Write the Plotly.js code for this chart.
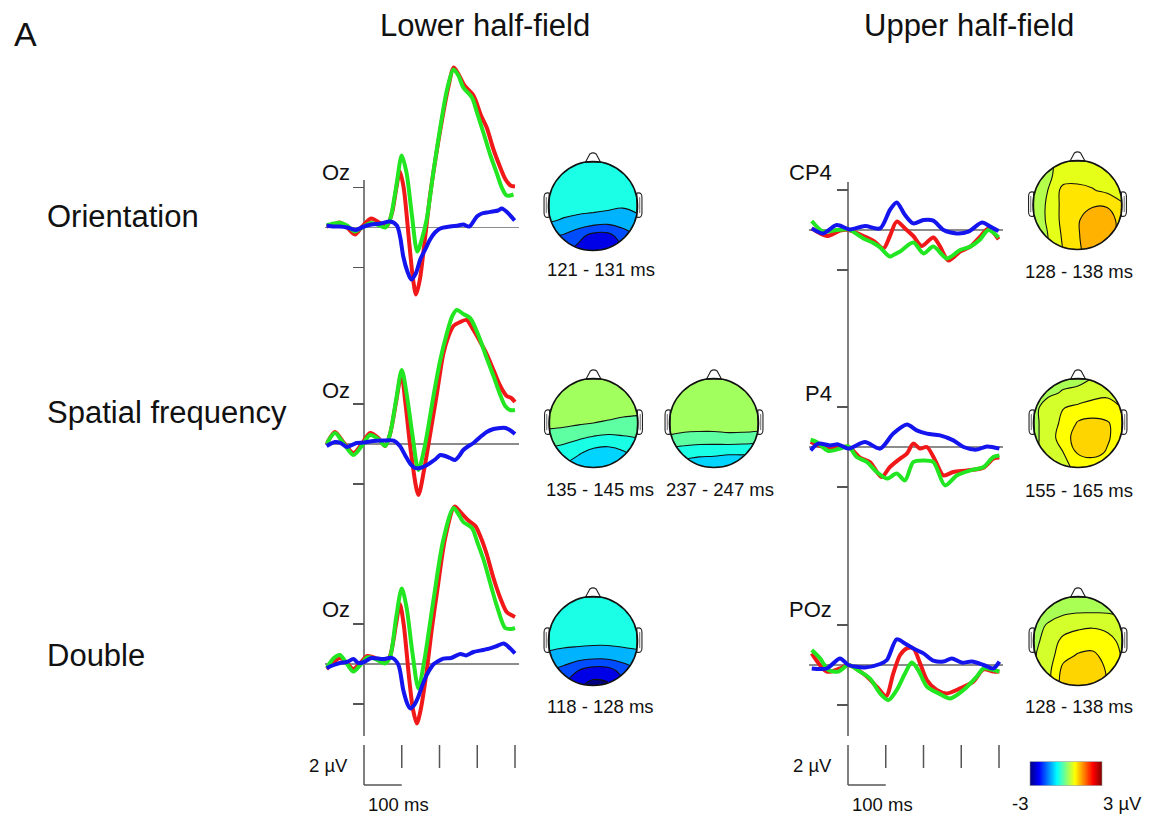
<!DOCTYPE html>
<html><head><meta charset="utf-8">
<script src="https://cdn.plot.ly/plotly-3.0.1.min.js"></script>
<style>html,body{margin:0;padding:0;background:#fff}#chart{width:1151px;height:816px}</style>
</head><body><div id="chart"></div>
<script>
// ---------------- DATA: ERP waveforms (time in ms, amplitude in µV) ----------------
// Orientation, lower half-field (Oz)
const olRedT   = [-99,-80,-64,-45,-24,-5,19,40,60,75,85,95,105,120,130,138,148,160,175,190,205,222,238,252,266,290,310,325,343,361,375,388,400];
const olRedV   = [0.05,0.15,0.25,0.0,-0.35,0.05,0.45,0.25,0.05,0.8,1.9,2.8,2.0,-0.8,-2.6,-3.35,-2.6,-0.8,1.6,3.5,5.2,6.9,8.0,7.6,7.1,6.6,5.6,5.0,3.9,3.0,2.4,2.1,2.05];
const olGreenT = [-99,-80,-64,-45,-24,-5,16,35,56,69,85,100,113,127,141,153,166,184,202,220,237,250,263,286,300,317,335,352,365,378,396];
const olGreenV = [0.1,0.2,0.24,0.1,-0.2,0.0,0.22,0.15,0.0,0.4,2.0,3.6,2.7,0.6,-1.2,-0.6,0.4,2.8,5.0,6.9,7.9,7.6,7.0,6.5,5.7,4.7,3.6,2.7,2.0,1.6,1.65];
const olBlueT  = [-99,-80,-64,-45,-22,0,20,45,69,87,96,104,115,125,137,149,162,175,188,202,228,250,263,279,299,312,325,340,355,365,380,399];
const olBlueV  = [0.1,0.05,0.05,0.0,-0.12,0.05,0.15,0.2,0.3,0.1,-0.5,-1.45,-2.2,-2.6,-2.3,-1.6,-1.1,-0.6,-0.25,-0.05,0.05,0.1,0.15,0.05,0.55,0.7,0.75,0.8,0.85,0.95,0.75,0.35];
// Spatial frequency, lower half-field (Oz)
const slRedT   = [-99,-77,-55,-28,-6,16,38,56,69,85,99,110,125,144,160,178,193,210,224,237,255,272,290,308,325,343,361,378,390,400];
const slRedV   = [0.0,0.6,0.1,-0.45,0.0,0.55,0.3,-0.1,0.5,2.1,3.5,2.0,-0.5,-2.55,-1.2,0.8,2.5,4.5,5.4,5.9,6.1,6.2,5.7,5.1,4.5,3.7,2.9,2.4,2.3,2.1];
const slGreenT = [-99,-77,-55,-28,-6,16,38,56,69,85,100,113,128,144,160,184,202,219,234,246,263,281,295,308,325,343,360,374,387,400];
const slGreenV = [0.0,0.55,0.05,-0.55,-0.1,0.45,0.25,-0.1,0.5,2.2,3.7,2.5,0.5,-1.3,-0.2,2.4,4.2,5.5,6.4,6.7,6.5,6.3,5.8,5.2,4.3,3.4,2.5,1.9,1.7,1.7];
const slBlueT  = [-99,-77,-62,-45,-20,0,25,50,78,95,110,122,135,148,162,175,190,202,215,228,241,252,263,277,290,308,325,343,361,375,390,400];
const slBlueV  = [-0.1,0.1,0.05,-0.15,0.05,0.07,0.15,0.17,0.17,-0.1,-0.6,-0.97,-1.2,-1.2,-1.1,-0.95,-0.75,-0.55,-0.6,-0.7,-0.8,-0.6,-0.3,-0.1,0.05,0.35,0.6,0.75,0.8,0.8,0.65,0.5];
// Double, lower half-field (Oz)
const dlRedT   = [-99,-80,-64,-45,-28,-10,9,30,56,69,85,95,105,120,130,140,150,165,180,195,215,240,255,275,295,310,325,343,361,378,390,400];
const dlRedV   = [-0.25,0.1,0.3,0.05,-0.25,0.05,0.4,0.3,0.05,0.4,2.0,3.0,2.0,-0.8,-2.3,-2.97,-2.3,-0.5,1.8,3.8,6.3,7.87,7.6,7.2,6.9,6.3,5.5,4.3,3.3,2.6,2.45,2.35];
const dlGreenT = [-99,-80,-64,-45,-28,-10,9,30,56,69,85,100,113,128,144,160,184,210,237,250,263,286,300,317,335,352,374,390,400];
const dlGreenV = [-0.2,0.3,0.45,0.0,-0.38,-0.05,0.33,0.25,0.03,0.35,2.3,3.78,2.8,0.6,-1.22,0.2,3.2,6.2,7.8,7.5,7.1,6.8,6.1,5.2,4.0,2.9,1.8,1.75,1.8];
const dlBlueT  = [-99,-80,-64,-45,-28,-15,0,20,50,75,91,104,115,122,133,144,158,171,185,193,210,230,255,270,290,310,334,352,370,382,400];
const dlBlueV  = [-0.2,-0.05,0.05,0.1,0.25,0.05,0.1,0.3,0.25,0.3,-0.03,-1.3,-2.0,-2.22,-2.05,-1.63,-0.9,-0.38,0.0,0.1,0.27,0.3,0.5,0.43,0.6,0.68,0.78,0.9,1.03,0.87,0.53];
// Orientation, upper half-field (CP4)
const ouRedT   = [-96,-56,-21,1,41,67,94,111,129,151,173,195,226,244,266,297,324,350,372,399];
const ouRedV   = [0.08,-0.3,-0.03,0.0,-0.3,-0.53,-0.92,-0.3,0.42,0.08,-0.3,-0.8,-0.37,-0.83,-1.53,-1.08,-0.83,-0.33,0.08,-0.47];
const ouGreenT = [-96,-66,-30,1,41,67,85,111,125,138,173,200,226,262,297,324,350,372,399];
const ouGreenV = [0.45,-0.08,0.0,0.03,-0.42,-0.65,-0.87,-1.33,-1.2,-1.08,-0.63,-1.17,-0.83,-1.42,-1.0,-0.83,-0.47,0.0,-0.37];
const ouBlueT  = [-96,-66,-30,5,45,85,111,129,151,173,200,226,253,288,319,355,377,399];
const ouBlueV  = [0.08,-0.17,0.25,0.03,0.2,0.08,1.0,1.38,0.75,0.33,0.5,0.47,0.0,-0.17,-0.08,0.37,0.17,-0.05];
// Spatial frequency, upper half-field (P4)
const suRedT   = [-99,-56,1,32,58,89,111,138,156,173,191,209,231,253,279,315,359,385,401];
const suRedV   = [0.25,-0.05,0.0,-0.53,-0.75,-1.5,-1.0,-0.58,-0.33,0.17,-0.08,0.0,-0.67,-1.42,-1.25,-1.17,-1.03,-0.58,-0.53];
const suGreenT = [-99,-83,-52,-21,1,23,50,76,103,129,151,173,200,226,257,288,324,359,385,401];
const suGreenV = [0.37,0.25,-0.2,-0.08,0.03,-0.5,-0.75,-1.25,-1.58,-1.33,-1.67,-0.75,-0.67,-0.75,-1.92,-1.42,-1.17,-1.0,-0.5,-0.42];
const suBlueT  = [-99,-79,-48,-26,1,45,85,120,156,182,209,244,279,306,341,368,401];
const suBlueV  = [-0.17,0.17,0.08,0.13,-0.08,0.25,-0.08,0.67,1.12,0.83,0.67,0.58,0.33,0.0,-0.13,0.03,-0.08];
// Double, upper half-field (POz)
const duRedT   = [-96,-56,-21,1,45,76,101,120,138,156,173,191,209,235,262,297,332,359,385,401];
const duRedV   = [0.58,-0.33,-0.17,0.0,-0.5,-1.08,-1.55,-0.42,0.5,0.83,0.83,0.08,-0.75,-1.25,-1.42,-1.17,-0.83,-0.22,-0.33,-0.33];
const duGreenT = [-96,-74,-52,-26,1,32,58,85,107,129,151,169,186,209,240,271,306,341,359,385,401];
const duGreenV = [0.75,0.33,-0.25,-0.33,0.0,-0.33,-0.67,-1.42,-1.75,-1.25,-0.42,0.12,-0.25,-1.08,-1.42,-1.67,-1.25,-0.58,-0.17,-0.25,-0.33];
const duBlueT  = [-96,-56,-21,1,45,85,103,129,151,173,200,226,253,275,301,328,359,385,401];
const duBlueV  = [-0.17,-0.17,0.33,0.0,-0.12,0.05,0.25,1.28,1.08,0.83,0.58,0.22,0.17,0.33,0.12,0.17,0.0,-0.17,0.17];

// scale-bar ticks (ms) and amplitude ticks (µV)
const timeTicks = [100, 200, 300, 400];
const ampTicks = [-2, 2];
const scaleBarMs = 100, scaleBarUv = 2;

// ---------------- DATA: scalp maps (µV), rows from back (y=-1) to front (y=1) ----------------
const topoGrid = [-1, -0.667, -0.333, 0, 0.333, 0.667, 1];
const topoOL121 = [
  [-1.6,-1.9,-2.3,-2.6,-2.6,-2.2,-1.8],
  [-1.4,-1.55,-1.9,-2.3,-2.3,-1.8,-1.5],
  [-0.85,-0.95,-1.05,-1.15,-1.25,-1.2,-1.0],
  [-0.65,-0.7,-0.7,-0.7,-0.75,-0.85,-0.8],
  [-0.55,-0.55,-0.55,-0.6,-0.6,-0.6,-0.6],
  [-0.5,-0.5,-0.5,-0.5,-0.5,-0.5,-0.5],
  [-0.5,-0.5,-0.5,-0.5,-0.5,-0.5,-0.5]];
const topoSL135 = [
  [-0.7,-0.85,-1.05,-1.1,-1.1,-1.0,-0.75],
  [-0.55,-0.6,-0.75,-0.95,-1.0,-0.85,-0.6],
  [-0.15,-0.25,-0.35,-0.45,-0.5,-0.45,-0.4],
  [0.1,0.1,0.05,0.0,-0.05,-0.1,-0.15],
  [0.2,0.2,0.2,0.2,0.2,0.15,0.15],
  [0.25,0.25,0.25,0.25,0.25,0.25,0.25],
  [0.25,0.25,0.25,0.25,0.25,0.25,0.25]];
const topoSL237 = [
  [-1.0,-1.0,-1.05,-1.05,-1.1,-1.1,-1.1],
  [-0.6,-0.65,-0.7,-0.72,-0.75,-0.75,-0.78],
  [-0.05,-0.12,-0.15,-0.15,-0.12,-0.15,-0.2],
  [0.2,0.2,0.2,0.2,0.22,0.25,0.25],
  [0.25,0.25,0.25,0.25,0.25,0.25,0.25],
  [0.25,0.25,0.25,0.25,0.25,0.25,0.25],
  [0.25,0.25,0.25,0.25,0.25,0.25,0.25]];
const topoDL118 = [
  [-1.8,-2.1,-2.6,-2.9,-2.8,-2.3,-1.9],
  [-1.5,-1.7,-2.1,-2.4,-2.35,-1.9,-1.55],
  [-1.0,-1.1,-1.2,-1.25,-1.25,-1.15,-1.05],
  [-0.7,-0.72,-0.72,-0.75,-0.75,-0.72,-0.7],
  [-0.5,-0.5,-0.5,-0.5,-0.5,-0.5,-0.5],
  [-0.45,-0.45,-0.45,-0.45,-0.45,-0.45,-0.45],
  [-0.45,-0.45,-0.45,-0.45,-0.45,-0.45,-0.45]];
const topoOU128 = [
  [0.26,0.45,0.75,0.98,1.24,1.13,0.83],
  [0.26,0.45,0.79,1.01,1.28,1.24,0.9],
  [0.26,0.49,0.83,1.01,1.24,1.24,0.9],
  [0.26,0.49,0.83,0.86,1.01,1.01,0.79],
  [0.26,0.45,0.83,0.83,0.77,0.68,0.6],
  [0.3,0.38,0.6,0.64,0.64,0.53,0.41],
  [0.38,0.38,0.56,0.6,0.6,0.49,0.41]];
const topoSU155 = [
  [0.33,0.4,0.55,0.7,0.72,0.7,0.65],
  [0.33,0.45,0.62,0.9,0.95,0.85,0.7],
  [0.3,0.5,0.75,1.0,1.0,0.9,0.75],
  [0.3,0.5,0.68,0.9,0.95,0.9,0.7],
  [0.3,0.5,0.62,0.7,0.72,0.68,0.62],
  [0.2,0.33,0.4,0.42,0.55,0.6,0.6],
  [0.2,0.25,0.3,0.33,0.38,0.5,0.55]];
const topoDU128 = [
  [0.35,0.55,1.0,1.1,1.05,0.85,0.6],
  [0.35,0.55,0.95,1.05,1.0,0.85,0.6],
  [0.35,0.5,0.8,0.9,0.92,0.8,0.6],
  [0.32,0.45,0.7,0.75,0.78,0.72,0.55],
  [0.3,0.4,0.5,0.58,0.6,0.55,0.42],
  [0.25,0.3,0.33,0.35,0.35,0.35,0.35],
  [0.2,0.22,0.25,0.27,0.28,0.3,0.3]];
const colorRange = [-3, 3];

// ---------------- LAYOUT / STYLE ----------------
const W = 1151, H = 816;
const fx = px => px / W;
const fy = py => 1 - py / H;
const FONT = 'Liberation Sans, Arial, Helvetica, sans-serif';
const PX_MS = 0.3775, PX_UV = 20;
const T_RANGE = [-102, 410], V_RANGE = [-6, 10];
const JET = [[0,'rgb(0,0,128)'],[0.125,'rgb(0,0,255)'],[0.375,'rgb(0,255,255)'],[0.625,'rgb(255,255,0)'],[0.875,'rgb(255,0,0)'],[1,'rgb(128,0,0)']];
const COLORS = ['#f01818', '#22e622', '#1414ee'];
const AX = '#555';

const columns = [{t0: 364, axisTop: 180, elecX: 352}, {t0: 848, axisTop: 182, elecX: 834}];
const panels = [
  {col:0, zero:227.5, elec:'Oz',  elecY:172, s:[[olRedT,olRedV],[olGreenT,olGreenV],[olBlueT,olBlueV]]},
  {col:0, zero:444,   elec:'Oz',  elecY:390, s:[[slRedT,slRedV],[slGreenT,slGreenV],[slBlueT,slBlueV]]},
  {col:0, zero:664,   elec:'Oz',  elecY:609, s:[[dlRedT,dlRedV],[dlGreenT,dlGreenV],[dlBlueT,dlBlueV]]},
  {col:1, zero:230,   elec:'CP4', elecY:172, s:[[ouRedT,ouRedV],[ouGreenT,ouGreenV],[ouBlueT,ouBlueV]]},
  {col:1, zero:447,   elec:'P4',  elecY:393, s:[[suRedT,suRedV],[suGreenT,suGreenV],[suBlueT,suBlueV]]},
  {col:1, zero:665,   elec:'POz', elecY:609, s:[[duRedT,duRedV],[duGreenT,duGreenV],[duBlueT,duBlueV]]}
];
const topos = [
  {z:topoOL121, cs:0.6,  cx:593,    cy:206, label:'121 - 131 ms', lx:601,  ly:270},
  {z:topoSL135, cs:0.4,  cx:593.5,  cy:423, label:'135 - 145 ms', lx:600,  ly:489},
  {z:topoSL237, cs:0.4,  cx:714,    cy:423, label:'237 - 247 ms', lx:720,  ly:489},
  {z:topoDL118, cs:0.6,  cx:593,    cy:641, label:'118 - 128 ms', lx:601,  ly:706},
  {z:topoOU128, cs:0.3,  cx:1077.5, cy:205, label:'128 - 138 ms', lx:1079, ly:272},
  {z:topoSU155, cs:0.25, cx:1078,   cy:423, label:'155 - 165 ms', lx:1079, ly:490},
  {z:topoDU128, cs:0.25, cx:1078,   cy:641, label:'128 - 138 ms', lx:1079, ly:706}
];

const traces = [];
const layout = {
  width: W, height: H, margin: {l:0, r:0, t:0, b:0},
  paper_bgcolor: '#fff', plot_bgcolor: 'rgba(0,0,0,0)', showlegend: false,
  font: {family: FONT, color: '#111'},
  shapes: [], annotations: []
};
const ann = (text, x, y, size, xanchor) => layout.annotations.push({
  text, x: fx(x), y: fy(y), xref:'paper', yref:'paper', showarrow:false,
  xanchor: xanchor || 'center', yanchor:'middle', font:{family:FONT, size, color:'#111'}
});

// x axes for the two waveform columns
columns.forEach((c, ci) => {
  const key = ci === 0 ? 'xaxis' : 'xaxis2';
  layout[key] = {
    domain: [fx(c.t0 + T_RANGE[0]*PX_MS), fx(c.t0 + T_RANGE[1]*PX_MS)],
    range: T_RANGE, visible: false, fixedrange: true, anchor: ci === 0 ? 'y' : 'y4'
  };
  const xr = ci === 0 ? 'x' : 'x2';
  layout.shapes.push({type:'line', layer:'below', xref:xr, yref:'paper', x0:0, x1:0,
    y0: fy(c.axisTop), y1: fy(736), line:{color:AX, width:1.5}});
  timeTicks.forEach(t => layout.shapes.push({type:'line', layer:'below', xref:xr, yref:'paper',
    x0:t, x1:t, y0:fy(745), y1:fy(768), line:{color:AX, width:1.5}}));
  layout.shapes.push({type:'line', layer:'below', xref:xr, yref:'paper', x0:0, x1:0,
    y0:fy(745), y1:fy(745 + scaleBarUv*PX_UV), line:{color:AX, width:1.5}});
  layout.shapes.push({type:'line', layer:'below', xref:xr, yref:'paper', x0:0, x1:scaleBarMs,
    y0:fy(745 + scaleBarUv*PX_UV), y1:fy(745 + scaleBarUv*PX_UV), line:{color:AX, width:1.5}});
  ann('2 µV', c.t0 - 14, 765, 18.5, 'right');
  ann('100 ms', c.t0 + 34, 804, 18.5, 'center');
});

// waveform panels
panels.forEach((p, i) => {
  const yk = i === 0 ? 'yaxis' : 'yaxis' + (i + 1);
  const yr = i === 0 ? 'y' : 'y' + (i + 1);
  const xr = p.col === 0 ? 'x' : 'x2';
  const c = columns[p.col];
  layout[yk] = {
    domain: [fy(p.zero - V_RANGE[0]*PX_UV), fy(p.zero - V_RANGE[1]*PX_UV)],
    range: V_RANGE, anchor: 'free', position: fx(c.t0), fixedrange: true,
    showgrid: false, showline: false, zeroline: true, zerolinecolor: '#8c8c8c', zerolinewidth: 1.5,
    tickmode: 'array', tickvals: ampTicks, ticks: 'outside', ticklen: 11, tickwidth: 1.5,
    tickcolor: AX, showticklabels: false
  };
  p.s.forEach((s, k) => traces.push({
    type:'scatter', mode:'lines', x:s[0], y:s[1], xaxis:xr, yaxis:yr,
    line:{color:COLORS[k], width:4, shape:'spline', smoothing:0.8}, hoverinfo:'skip'
  }));
  ann(p.elec, c.elecX, p.elecY, 22, 'right');
});

// scalp maps
const R = 44.5, HALF = 1.25 * R;
const k = 0.5523;
const circ = `M 1,0 C 1,${k} ${k},1 0,1 C ${-k},1 -1,${k} -1,0 C -1,${-k} ${-k},-1 0,-1 C ${k},-1 1,${-k} 1,0 Z`;
topos.forEach((t, i) => {
  const xn = i + 3, yn = i + 7;
  const xr = 'x' + xn, yr = 'y' + yn;
  layout['xaxis' + xn] = {domain:[fx(t.cx - HALF), fx(t.cx + HALF)], range:[-1.25,1.25], visible:false, fixedrange:true, anchor:yr};
  layout['yaxis' + yn] = {domain:[fy(t.cy + HALF), fy(t.cy - HALF)], range:[-1.25,1.25], visible:false, fixedrange:true, anchor:xr};
  traces.push({
    type:'contour', x:topoGrid, y:topoGrid, z:t.z, xaxis:xr, yaxis:yr,
    colorscale: JET, showscale:false, autocontour:false,
    contours:{start: colorRange[0] + t.cs/2, end: colorRange[1] - t.cs/2, size: t.cs, coloring:'fill', showlines:true},
    line:{color:'#111', width:1.1, smoothing:1.1}, hoverinfo:'skip'
  });
  layout.shapes.push({type:'path', xref:xr, yref:yr, layer:'above', fillrule:'evenodd',
    path: 'M -1.04,-1.04 L 1.04,-1.04 L 1.04,1.04 L -1.04,1.04 Z ' + circ,
    fillcolor:'#fff', line:{width:0}});
  [-1, 1].forEach(sg => {
    layout.shapes.push({type:'path', xref:xr, yref:yr, layer:'above',
      path:`M ${sg*0.985},0.29 C ${sg*1.07},0.31 ${sg*1.1},0.27 ${sg*1.1},0.19 L ${sg*1.1},-0.15 C ${sg*1.1},-0.23 ${sg*1.07},-0.27 ${sg*0.985},-0.25 Z`,
      fillcolor:'#fff', line:{color:'#222', width:1.1}});
    layout.shapes.push({type:'line', xref:xr, yref:yr, layer:'above',
      x0:sg*1.05, x1:sg*1.05, y0:0.2, y1:-0.16, line:{color:'#444', width:0.8}});
  });
  layout.shapes.push({type:'path', xref:xr, yref:yr, layer:'above',
    path:'M -0.17,0.985 L -0.07,1.17 Q 0,1.22 0.07,1.17 L 0.17,0.985 Z',
    fillcolor:'#fff', line:{color:'#222', width:1.1}});
  layout.shapes.push({type:'circle', xref:xr, yref:yr, layer:'above', x0:-1, x1:1, y0:-1, y1:1,
    line:{color:'#111', width:1.6}});
  ann(t.label, t.lx, t.ly, 18.5, 'center');
});

// colour scale bar
traces.push({
  type:'scatter', mode:'markers', x:[0], y:[0], xaxis:'x', yaxis:'y', hoverinfo:'skip',
  marker:{size:1, opacity:0, color:[0], cmin:colorRange[0], cmax:colorRange[1], colorscale:JET, showscale:true,
    colorbar:{orientation:'h', x:fx(1030), xanchor:'left', y:fy(773.7), yanchor:'middle',
      len:72, lenmode:'pixels', thickness:24, thicknessmode:'pixels', xpad:0, ypad:0,
      outlinewidth:0.6, outlinecolor:'#999', showticklabels:false, ticks:''}}
});
ann(String(colorRange[0]), 1020, 803, 18.5, 'center');
ann(colorRange[1] + ' µV', 1122, 803, 18.5, 'center');

// titles and row labels
ann('A', 12, 34, 34, 'left');
ann('Lower half-field', 485, 25, 31, 'center');
ann('Upper half-field', 969, 25, 31, 'center');
ann('Orientation', 45, 217, 31, 'left');
ann('Spatial frequency', 45, 412, 31, 'left');
ann('Double', 45, 655, 31, 'left');

Plotly.newPlot('chart', traces, layout, {staticPlot:true, displayModeBar:false});
</script></body></html>
